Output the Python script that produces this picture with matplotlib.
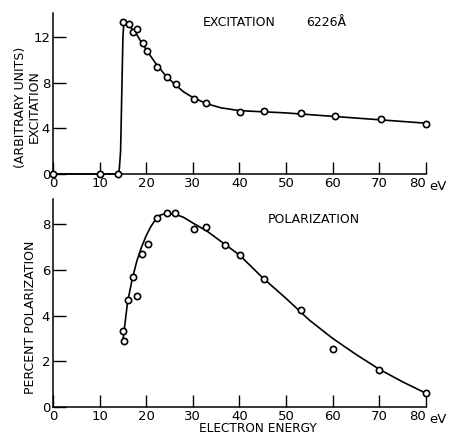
import numpy as np
import matplotlib
import matplotlib.pyplot as plt

matplotlib.use("Agg")

# excitation, measured points (eV, arbitrary units)
exc_E = [0, 10, 14, 15.1, 16.3, 17.2, 18.1, 19.2, 20.1, 22.4, 24.4, 26.3,
         30.3, 32.9, 40.2, 45.3, 53.3, 60.4, 70.3, 80]
exc_val = [0, 0, 0, 13.3, 13.1, 12.4, 12.7, 11.5, 10.8, 9.4, 8.5, 7.9,
           6.6, 6.2, 5.4, 5.5, 5.3, 5.1, 4.8, 4.4]
# excitation, drawn curve
exc_curve_E = [0, 13.8, 14.2, 14.5, 14.8, 15.0, 15.2, 16, 17, 18, 19, 20, 22,
               24, 26, 28, 30, 33, 36, 40, 45, 50, 55, 60, 65, 70, 75, 80]
exc_curve = [0, 0, 0.3, 2.0, 8.0, 12.0, 13.3, 13.1, 12.7, 12.2, 11.5, 10.9, 9.7,
             8.7, 7.9, 7.2, 6.7, 6.15, 5.8, 5.55, 5.45, 5.35, 5.2, 5.05, 4.9,
             4.75, 4.6, 4.45]

# polarization, measured points (eV, percent)
pol_E = [15.1, 15.3, 16.1, 17.1, 18.1, 19.1, 20.3, 22.3, 24.4, 26.2, 30.2,
         32.8, 37.0, 40.2, 45.2, 53.2, 60.0, 70.0, 80.0]
pol_val = [3.33, 2.88, 4.7, 5.7, 4.86, 6.71, 7.12, 8.28, 8.5, 8.48, 7.8,
           7.87, 7.07, 6.64, 5.59, 4.25, 2.55, 1.63, 0.61]
# polarization, drawn curve
pol_curve_E = [15, 16, 17, 18, 19, 20, 21, 22, 23, 24, 26, 28, 30, 33, 36,
               40, 45, 50, 55, 60, 65, 70, 75, 80]
pol_curve = [2.9, 4.6, 5.6, 6.4, 7.0, 7.5, 7.9, 8.2, 8.4, 8.45, 8.45, 8.3,
             8.05, 7.7, 7.25, 6.65, 5.65, 4.75, 3.8, 3.0, 2.3, 1.65, 1.1, 0.6]

x_ticks = [0, 10, 20, 30, 40, 50, 60, 70, 80]

plt.rcParams["font.family"] = "DejaVu Sans"

fig = plt.figure(figsize=(4.51, 4.36), dpi=100)
ax1 = fig.add_axes([0.1175, 0.601, 0.827, 0.369])
ax2 = fig.add_axes([0.1175, 0.0665, 0.827, 0.477])


def style(ax, yticks, ytop):
    ax.set_xlim(0, 80)
    ax.set_ylim(0, ytop)
    ax.set_xticks(x_ticks)
    ax.set_yticks(yticks)
    for s in ["top", "right"]:
        ax.spines[s].set_visible(False)
    for s in ["left", "bottom"]:
        ax.spines[s].set_linewidth(1.1)
    ax.tick_params(direction="in", length=9, width=1.0, labelsize=9.5,
                   pad=2)
    # "80" sits just left of its tick, followed by "eV"
    ax.get_xticklabels()[-1].set_horizontalalignment("right")
    ax.text(1.01, -0.04 * 0.369 / ax.get_position().height, "eV",
            transform=ax.transAxes, fontsize=9.5, va="top")


ax1.plot(exc_curve_E, exc_curve, color="black", lw=1.2, clip_on=False)
ax1.plot(exc_E, exc_val, "o", mfc="white", mec="black", ms=4.5, mew=1.2,
         clip_on=False, zorder=3)
style(ax1, [0, 4, 8, 12], 14.1)
ax1.set_ylabel("(ARBITRARY UNITS)\nEXCITATION", fontsize=9, linespacing=1.0)
ax1.yaxis.set_label_coords(-0.034, 0.416)
ax1.text(0.402, 0.94, "EXCITATION", transform=ax1.transAxes, fontsize=9,
         va="center")
ax1.text(0.68, 0.94, "6226Å", transform=ax1.transAxes, fontsize=9,
         va="center")

ax2.plot(pol_curve_E, pol_curve, color="black", lw=1.2, clip_on=False)
ax2.plot(pol_E, pol_val, "o", mfc="white", mec="black", ms=4.5, mew=1.2,
         clip_on=False, zorder=3)
style(ax2, [0, 2, 4, 6, 8], 9.1)
ax2.set_ylabel("PERCENT POLARIZATION", fontsize=9)
ax2.yaxis.set_label_coords(-0.042, 0.433)
ax2.text(0.55, -0.105, "ELECTRON ENERGY", transform=ax2.transAxes,
         fontsize=8.7, ha="center", va="center")
ax2.text(0.577, 0.9, "POLARIZATION", transform=ax2.transAxes, fontsize=9,
         va="center")

fig.savefig("out.png", dpi=100)
